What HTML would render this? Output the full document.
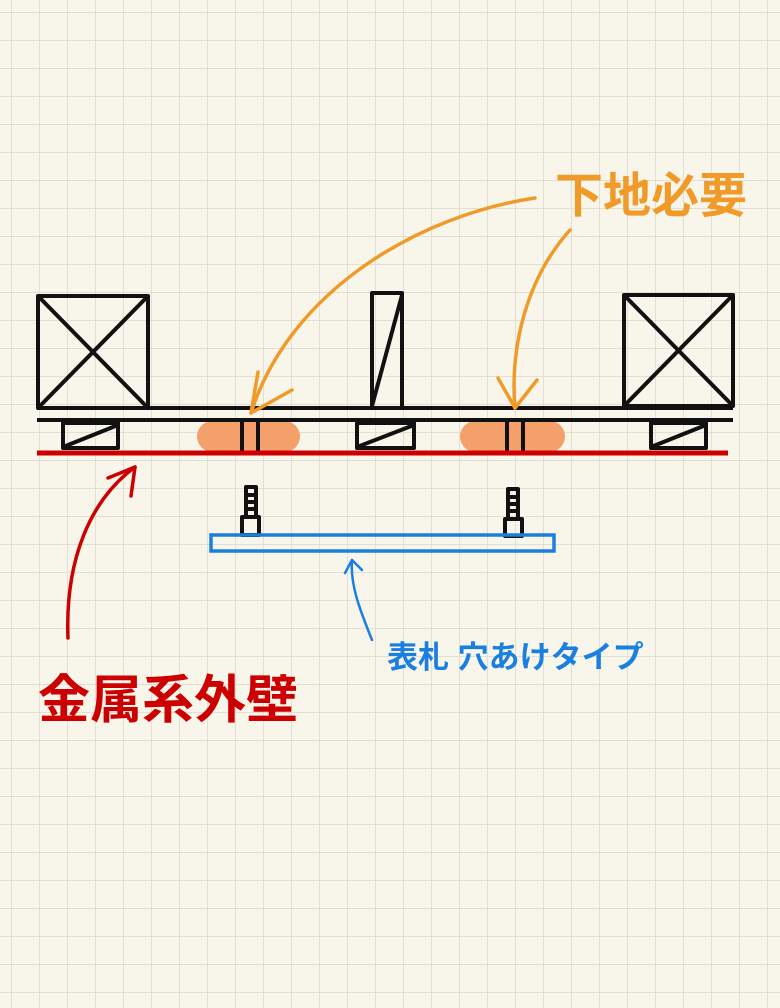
<!DOCTYPE html>
<html><head><meta charset="utf-8"><style>
html,body{margin:0;padding:0;}
body{width:780px;height:1008px;overflow:hidden;background:#f8f5ea;}
svg{position:absolute;left:0;top:0;}
text{font-family:"Liberation Sans","Noto Sans CJK JP",sans-serif;font-weight:bold;}
</style></head><body>
<svg width="780" height="1008" viewBox="0 0 780 1008">
<defs><pattern id="g" x="11" y="12" width="28" height="28" patternUnits="userSpaceOnUse">
<path d="M0 0 H28 M0 0 V28" stroke="#dcd8cb" stroke-width="1.5" fill="none"/></pattern></defs>
<rect width="780" height="1008" fill="url(#g)"/>
<g fill="#f3a06a">
<rect x="197" y="421" width="103" height="31" rx="15.5"/>
<rect x="460" y="421" width="105" height="31" rx="15.5"/>
</g>
<g stroke="#111" stroke-width="4" fill="none" stroke-linejoin="round">
<line x1="37" y1="408" x2="733" y2="408"/>
<line x1="37" y1="420" x2="733" y2="420"/>
<rect x="38" y="296" width="110" height="112"/>
<line x1="38" y1="296" x2="148" y2="408"/><line x1="148" y1="296" x2="38" y2="408"/>
<rect x="372" y="293" width="30" height="115"/>
<line x1="372" y1="406" x2="402" y2="295"/>
<rect x="624" y="295" width="109" height="111"/>
<line x1="624" y1="295" x2="733" y2="406"/><line x1="733" y1="295" x2="624" y2="406"/>
<rect x="63" y="423" width="55" height="25"/><line x1="63" y1="447" x2="118" y2="425"/>
<rect x="357" y="423" width="57" height="25"/><line x1="357" y1="447" x2="414" y2="425"/>
<rect x="651" y="423" width="55" height="25"/><line x1="651" y1="447" x2="706" y2="425"/>
<line x1="242" y1="421" x2="242" y2="452"/><line x1="258" y1="421" x2="258" y2="452"/>
<line x1="507" y1="421" x2="507" y2="452"/><line x1="523" y1="421" x2="523" y2="452"/>
<rect x="242" y="517" width="17" height="18"/>
<rect x="246" y="487" width="10" height="30"/>
<line x1="246" y1="495" x2="256" y2="495"/><line x1="246" y1="502" x2="256" y2="502"/><line x1="246" y1="509" x2="256" y2="509"/>
<rect x="505" y="519" width="17" height="17"/>
<rect x="508" y="489" width="10" height="30"/>
<line x1="508" y1="497" x2="518" y2="497"/><line x1="508" y1="504" x2="518" y2="504"/><line x1="508" y1="511" x2="518" y2="511"/>
</g>
<line x1="37" y1="453" x2="728" y2="453" stroke="#cc0000" stroke-width="5"/>
<rect x="211" y="535" width="343" height="16" fill="none" stroke="#1a7fe0" stroke-width="3.5"/>
<g fill="none" stroke="#f09a2a" stroke-width="3.5" stroke-linecap="round">
<path d="M535 198 C420 215 290 290 251 413"/>
<path d="M251 413 L258 372 M251 413 L292 390"/>
<path d="M570 230 C525 280 510 350 515 408"/>
<path d="M515 408 L498 378 M515 408 L537 380"/>
</g>
<g fill="none" stroke="#cc0000" stroke-width="3.5" stroke-linecap="round">
<path d="M68 638 C65 560 90 500 135 467"/>
<path d="M135 467 L108 478 M135 467 L131 496"/>
</g>
<g fill="none" stroke="#1a7fe0" stroke-width="2.5" stroke-linecap="round">
<path d="M372 640 C360 610 350 585 352 560"/>
<path d="M352 560 L345 573 M352 560 L362 570"/>
</g>
<text x="555" y="212" font-size="48" fill="#f09a2a">下地必要</text>
<text x="38" y="718" font-size="52" fill="#cc0000">金属系外壁</text>
<text x="387" y="668" font-size="31" fill="#1a7fe0" font-weight="normal">表札 穴あけタイプ</text>
</svg>
</body></html>
